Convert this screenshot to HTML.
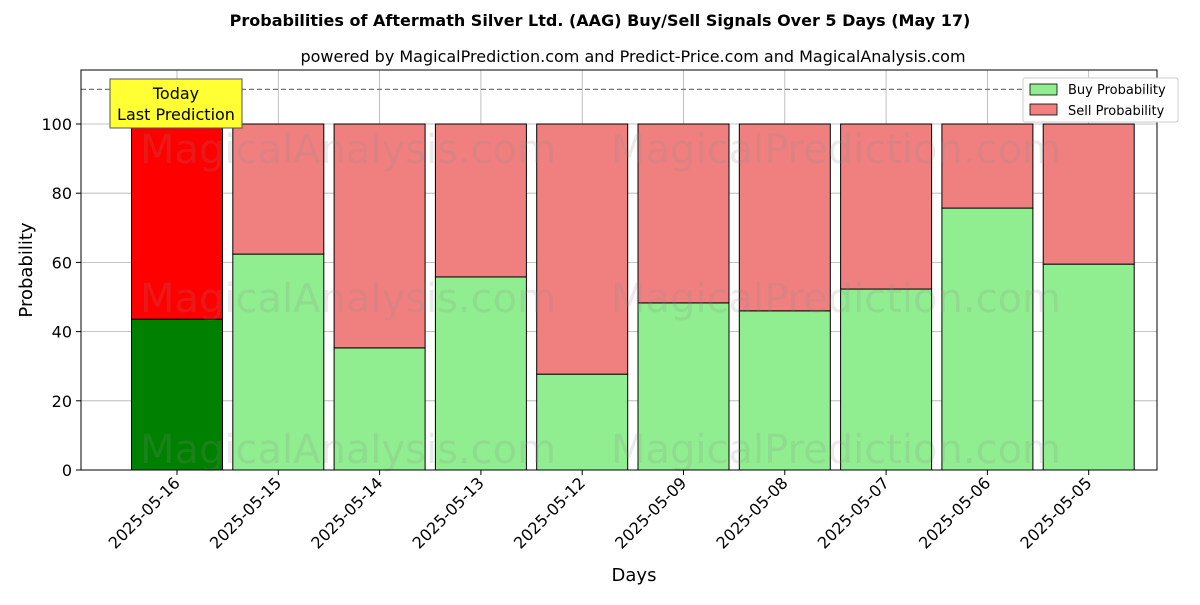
<!DOCTYPE html>
<html><head><meta charset="utf-8"><style>
body{margin:0;background:#fff;}
svg text{font-family:"DejaVu Sans","Liberation Sans",sans-serif;}
</style></head><body>
<svg id="chart" width="1200" height="600" xmlns="http://www.w3.org/2000/svg">
<text x="600" y="26" text-anchor="middle" font-size="16" font-weight="bold">Probabilities of Aftermath Silver Ltd. (AAG) Buy/Sell Signals Over 5 Days (May 17)</text>
<text x="633" y="62" text-anchor="middle" font-size="16">powered by MagicalPrediction.com and Predict-Price.com and MagicalAnalysis.com</text>
<g id="grid"></g>
<g id="bars"></g>
<g id="wm" fill="#888" fill-opacity="0.18" font-size="40">
<text x="348" y="163" text-anchor="middle">MagicalAnalysis.com</text>
<text x="836" y="163" text-anchor="middle">MagicalPrediction.com</text>
<text x="348" y="312" text-anchor="middle">MagicalAnalysis.com</text>
<text x="836" y="312" text-anchor="middle">MagicalPrediction.com</text>
<text x="348" y="463" text-anchor="middle">MagicalAnalysis.com</text>
<text x="836" y="463" text-anchor="middle">MagicalPrediction.com</text>
</g>
<line id="refline" x1="81" x2="1157" stroke="#777" stroke-dasharray="5,3" stroke-width="1.2"/>
<rect x="81" y="70" width="1076" height="400" fill="none" stroke="#000" stroke-width="1"/>
<g id="axes"></g>
<g>
<rect x="110" y="79" width="132" height="49" fill="#ffff33" stroke="#555" stroke-width="1"/>
<text x="176" y="99" text-anchor="middle" font-size="16">Today</text>
<text x="176" y="120" text-anchor="middle" font-size="16">Last Prediction</text>
</g>
<g>
<rect x="1023" y="78" width="155" height="44" fill="#fff" stroke="#ccc" rx="2"/>
<rect x="1030" y="84" width="27" height="11" fill="#90ee90" stroke="#000" stroke-width="0.8"/>
<text x="1068" y="94" font-size="13">Buy Probability</text>
<rect x="1030" y="104" width="27" height="11" fill="#f08080" stroke="#000" stroke-width="0.8"/>
<text x="1068" y="115" font-size="13">Sell Probability</text>
</g>
<text x="634" y="581" text-anchor="middle" font-size="18">Days</text>
<text transform="translate(32,270) rotate(-90)" text-anchor="middle" font-size="18">Probability</text>
</svg>
<script>
const categories=["2025-05-16","2025-05-15","2025-05-14","2025-05-13","2025-05-12","2025-05-09","2025-05-08","2025-05-07","2025-05-06","2025-05-05"];
const buyValues=[43.6,62.4,35.3,55.8,27.7,48.3,46.0,52.3,75.7,59.5];
const sellValues=buyValues.map(v=>100-v);
const yTicks=[0,20,40,60,80,100];
const refValue=110;
const NS="http://www.w3.org/2000/svg";
const y=v=>470-v*3.46;
const x=i=>177+101.3*i;
const bw=91;
function mk(tag,attrs,parent){const e=document.createElementNS(NS,tag);for(const k in attrs)e.setAttribute(k,attrs[k]);parent.appendChild(e);return e;}
const grid=document.getElementById('grid'),bars=document.getElementById('bars'),axes=document.getElementById('axes');
yTicks.forEach(t=>{
 const l=mk('line',{x1:81,x2:1157,y1:y(t),y2:y(t),stroke:'#b0b0b0','stroke-width':0.8},grid);
 
 
 const tk=mk('line',{x1:76,x2:81,y1:y(t),y2:y(t),stroke:'#000'},axes);
 
 
 const tx=mk('text',{x:72,y:y(t)+6,'text-anchor':'end','font-size':16},axes);
 tx.textContent=t;
 
 
});
categories.forEach((c,i)=>{
 const l=mk('line',{x1:x(i),x2:x(i),y1:70,y2:470,stroke:'#b0b0b0','stroke-width':0.8},grid);
 
 
 const today=i===0;
 const b=mk('rect',{x:x(i)-bw/2,y:y(buyValues[i]),width:bw,height:y(0)-y(buyValues[i]),fill:today?'#008000':'#90ee90',stroke:'#000','stroke-width':1},bars);
 
 
 const s=mk('rect',{x:x(i)-bw/2,y:y(buyValues[i]+sellValues[i]),width:bw,height:y(buyValues[i])-y(buyValues[i]+sellValues[i]),fill:today?'#ff0000':'#f08080',stroke:'#000','stroke-width':1},bars);
 
 
 const tk=mk('line',{x1:x(i),x2:x(i),y1:470,y2:475,stroke:'#000'},axes);
 
 
 const tx=mk('text',{x:x(i)+4,y:484,'text-anchor':'end','font-size':16,transform:`rotate(-45 ${x(i)+4} 484)`},axes);
 tx.textContent=c;
 
 
});
const r=document.getElementById('refline');r.setAttribute('y1',y(refValue));r.setAttribute('y2',y(refValue));
</script>
</body></html>
